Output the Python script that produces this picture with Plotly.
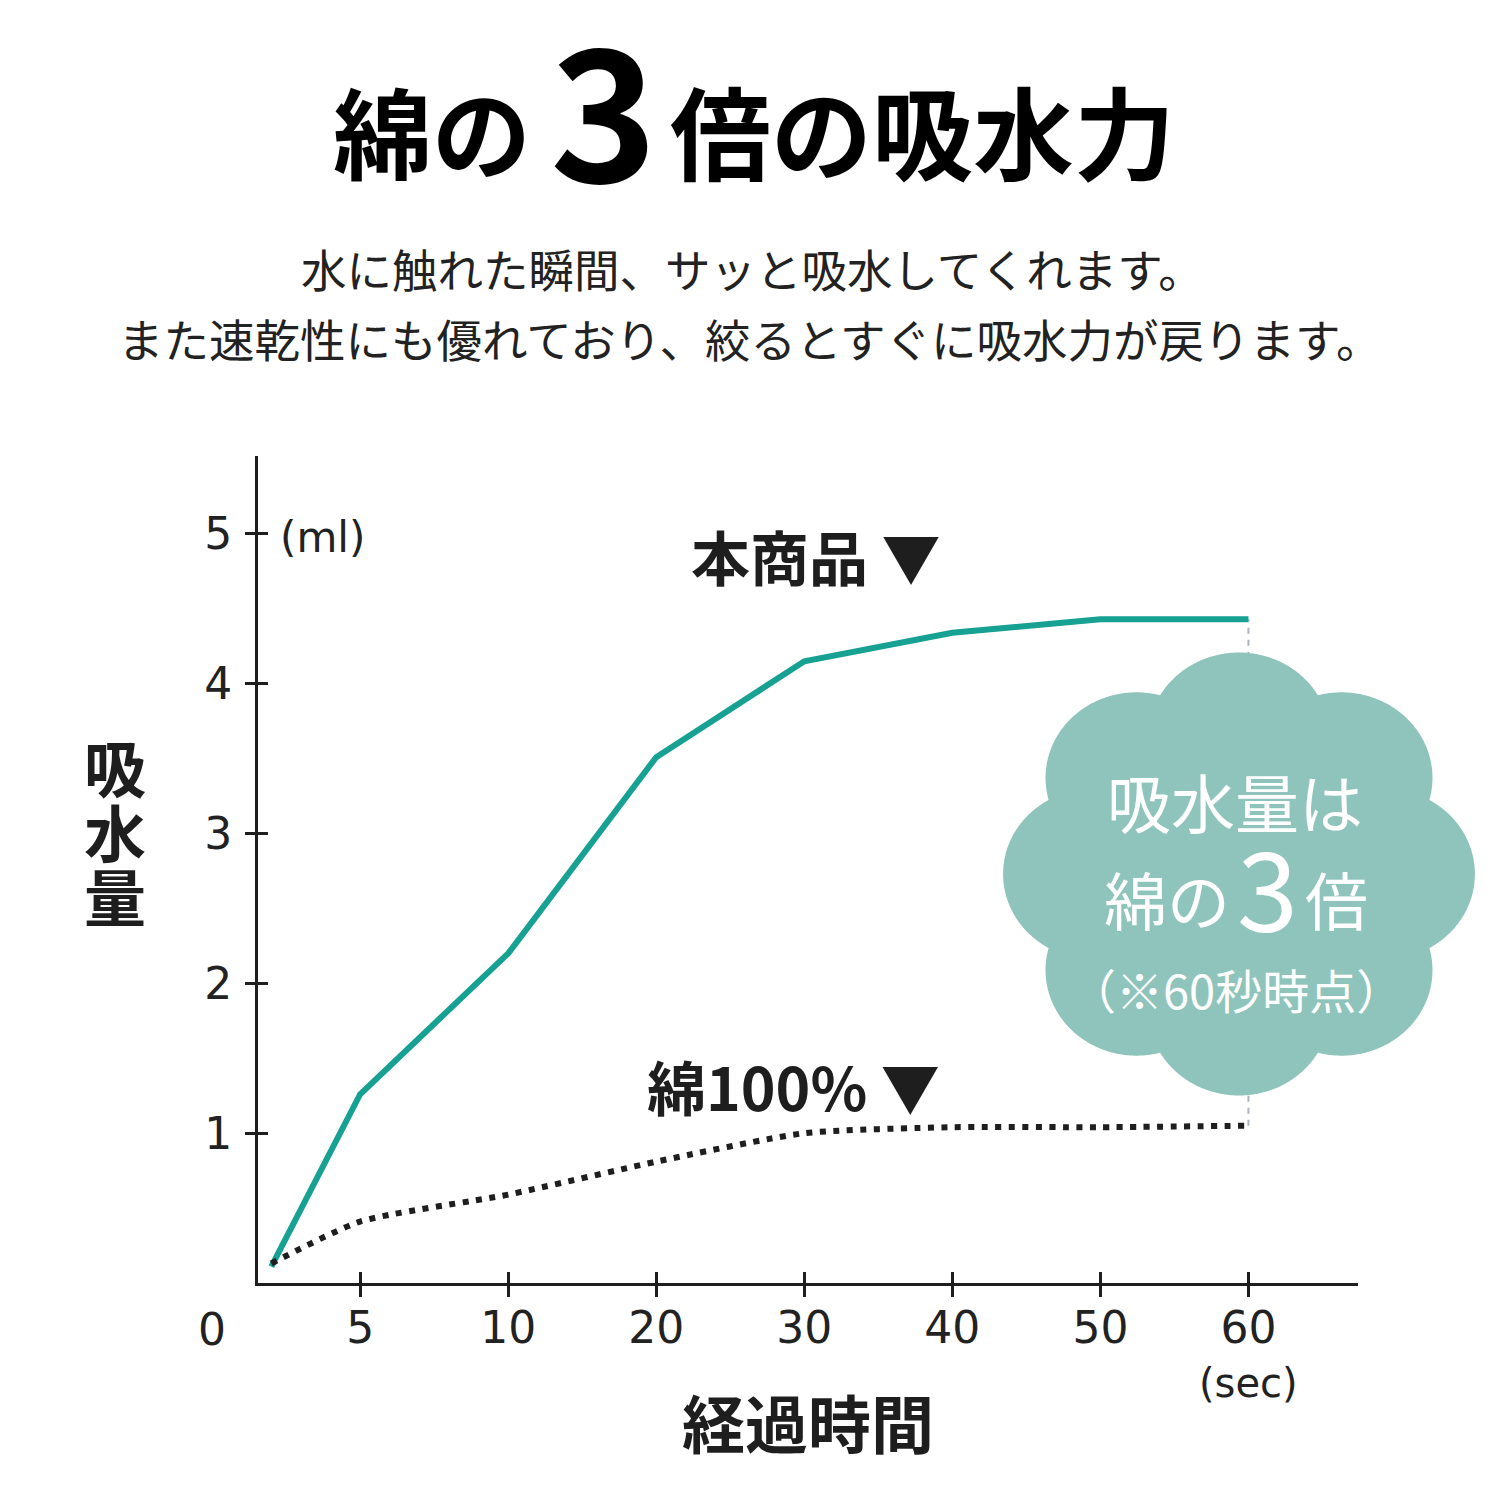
import numpy as np
import plotly.graph_objects as go

# ---------------- data ----------------
time_sec = [2, 5, 10, 20, 30, 40, 50, 60]
product_ml = [0.11, 1.26, 2.20, 3.51, 4.15, 4.34, 4.43, 4.43]
cotton_ml = [0.13, 0.41, 0.59, 0.81, 1.00, 1.04, 1.04, 1.05]
tick_times = [5, 10, 20, 30, 40, 50, 60]
tick_labels = ["5", "10", "20", "30", "40", "50", "60"]
y_ticks = [1, 2, 3, 4, 5]
y_labels = ["1", "2", "3", "4", "5"]

# x axis is a piecewise (non-uniform) time scale: equal spacing per tick step
scale_knots = [0, 5, 10, 20, 30, 40, 50, 60]


def tscale(t):
    return np.interp(t, scale_knots, np.arange(len(scale_knots))).tolist()


# ---------------- layout geometry (pixels) ----------------
W, H = 1500, 1500
L, R, T, B = 258, 142, 456, 217
PW, PH = W - L - R, H - T - B


def px(x):
    return (x - L) / PW


def py(y):
    return (H - B - y) / PH


JP = "Noto Sans CJK JP"
NUM = "DejaVu Sans"
INK = "#1e1e1e"
TEAL = "#16a193"
CLOUD = "#8ec4bb"

fig = go.Figure()

fig.add_trace(go.Scatter(
    x=tscale(time_sec), y=product_ml, mode="lines",
    line=dict(color=TEAL, width=6), showlegend=False, hoverinfo="skip"))
fig.add_trace(go.Scatter(
    x=tscale(time_sec), y=cotton_ml, mode="lines",
    line=dict(color=INK, width=6, dash="6px,7.5px", shape="spline", smoothing=0.6),
    showlegend=False, hoverinfo="skip"))
# dummy trace for overlay axes (inside tick halves)
fig.add_trace(go.Scatter(x=[], y=[], xaxis="x2", yaxis="y2", showlegend=False))

xr = [0.31, 7.74]
yr = [0, 5.52]

# dashed connector at 60 sec
fig.add_shape(type="line", xref="x", yref="y",
              x0=tscale([time_sec[-1]])[0], x1=tscale([time_sec[-1]])[0],
              y0=cotton_ml[-1], y1=product_ml[-1],
              line=dict(color="#aab4c2", width=2, dash="6px,6px"), layer="below")

# ---------------- cloud (flower) decoration ----------------
cx, cy = 1239, 874
d, r = 136.0, 85.5
sx = 1.065
theta = np.linspace(0, 2 * np.pi, 1441)
phis = np.deg2rad(np.arange(0, 360, 45))
tmax = np.zeros_like(theta)
for ph in phis:
    dd = theta - ph
    disc = r ** 2 - (d * np.sin(dd)) ** 2
    t = np.where(disc >= 0, d * np.cos(dd) + np.sqrt(np.clip(disc, 0, None)), 0)
    tmax = np.maximum(tmax, t)
pxs = cx + sx * tmax * np.cos(theta)
pys = cy - tmax * np.sin(theta)
path = "M " + " L ".join(f"{px(a):.5f},{py(b):.5f}" for a, b in zip(pxs, pys)) + " Z"
fig.add_shape(type="path", xref="paper", yref="paper", path=path,
              fillcolor=CLOUD, line=dict(width=0), layer="above")

ann = []


def A(text, x, y, size, color=INK, family=JP, weight="normal", xanchor="center", yanchor="middle"):
    ann.append(dict(text=text, x=px(x), y=py(y), xref="paper", yref="paper",
                    showarrow=False, xanchor=xanchor, yanchor=yanchor,
                    font=dict(family=family, size=size, color=color, weight=weight)))


# title
A("綿の", 533, 129, 99, color="#000", weight="bold", xanchor="right")
A("3", 603, 102, 182, color="#000", weight="bold")
A("倍の吸水力", 668, 129, 101, color="#000", weight="bold", xanchor="left")
# subtitle
A("水に触れた瞬間、サッと吸水してくれます。", 752, 268, 45.5, color="#222")
A("また速乾性にも優れており、絞るとすぐに吸水力が戻ります。", 750, 338, 45.5, color="#222")

# axis titles
for ch, yy in zip("吸水量", [766, 831, 895]):
    A(ch, 115, yy, 62, weight="bold")
A("経過時間", 808, 1420, 63, weight="bold")
A("(sec)", 1248, 1383, 40, family=NUM, color="#222")
A("(ml)", 278, 537, 42, family=NUM, color="#222", xanchor="left")
A("0", 212, 1329, 44, family=NUM, color="#222")

# series labels
A("本商品 ▼", 942, 555, 59, weight="bold", xanchor="right")
A("綿100% ▼", 942, 1085, 59, weight="bold", xanchor="right")

# cloud texts
A("吸水量は", 1235, 800, 64, color="#fff")
A("綿の", 1232, 897, 63, color="#fff", xanchor="right")
A("3", 1267, 884, 110, color="#fff")
A("倍", 1336, 897, 63, color="#fff")
A("（※60秒時点）", 1236, 988, 47, color="#fff")

tickcommon = dict(tickfont=dict(family=NUM, size=44, color="#222"))

fig.update_layout(
    width=W, height=H, margin=dict(l=L, r=R, t=T, b=B),
    paper_bgcolor="white", plot_bgcolor="white",
    annotations=ann, showlegend=False,
    xaxis=dict(range=xr, tickmode="array", tickvals=tscale(tick_times), ticktext=tick_labels,
               showline=True, linecolor=INK, linewidth=3, showgrid=False, zeroline=False,
               ticks="outside", ticklen=11, tickwidth=2.5, tickcolor=INK,
               ticklabelstandoff=-7, fixedrange=True, **tickcommon),
    yaxis=dict(range=yr, tickmode="array", tickvals=y_ticks, ticktext=y_labels,
               showline=True, linecolor=INK, linewidth=3, showgrid=False, zeroline=False,
               ticks="outside", ticklen=10, tickwidth=2.5, tickcolor=INK,
               ticklabelstandoff=4, fixedrange=True, **tickcommon),
    xaxis2=dict(range=xr, overlaying="x", anchor="y", side="bottom", tickmode="array",
                tickvals=tscale(tick_times), showticklabels=False, showline=False,
                showgrid=False, zeroline=False, ticks="inside", ticklen=11, tickwidth=2.5,
                tickcolor=INK),
    yaxis2=dict(range=yr, overlaying="y", anchor="x", side="left", tickmode="array",
                tickvals=y_ticks, showticklabels=False, showline=False,
                showgrid=False, zeroline=False, ticks="inside", ticklen=10, tickwidth=2.5,
                tickcolor=INK),
)

fig.write_html("out.html")
